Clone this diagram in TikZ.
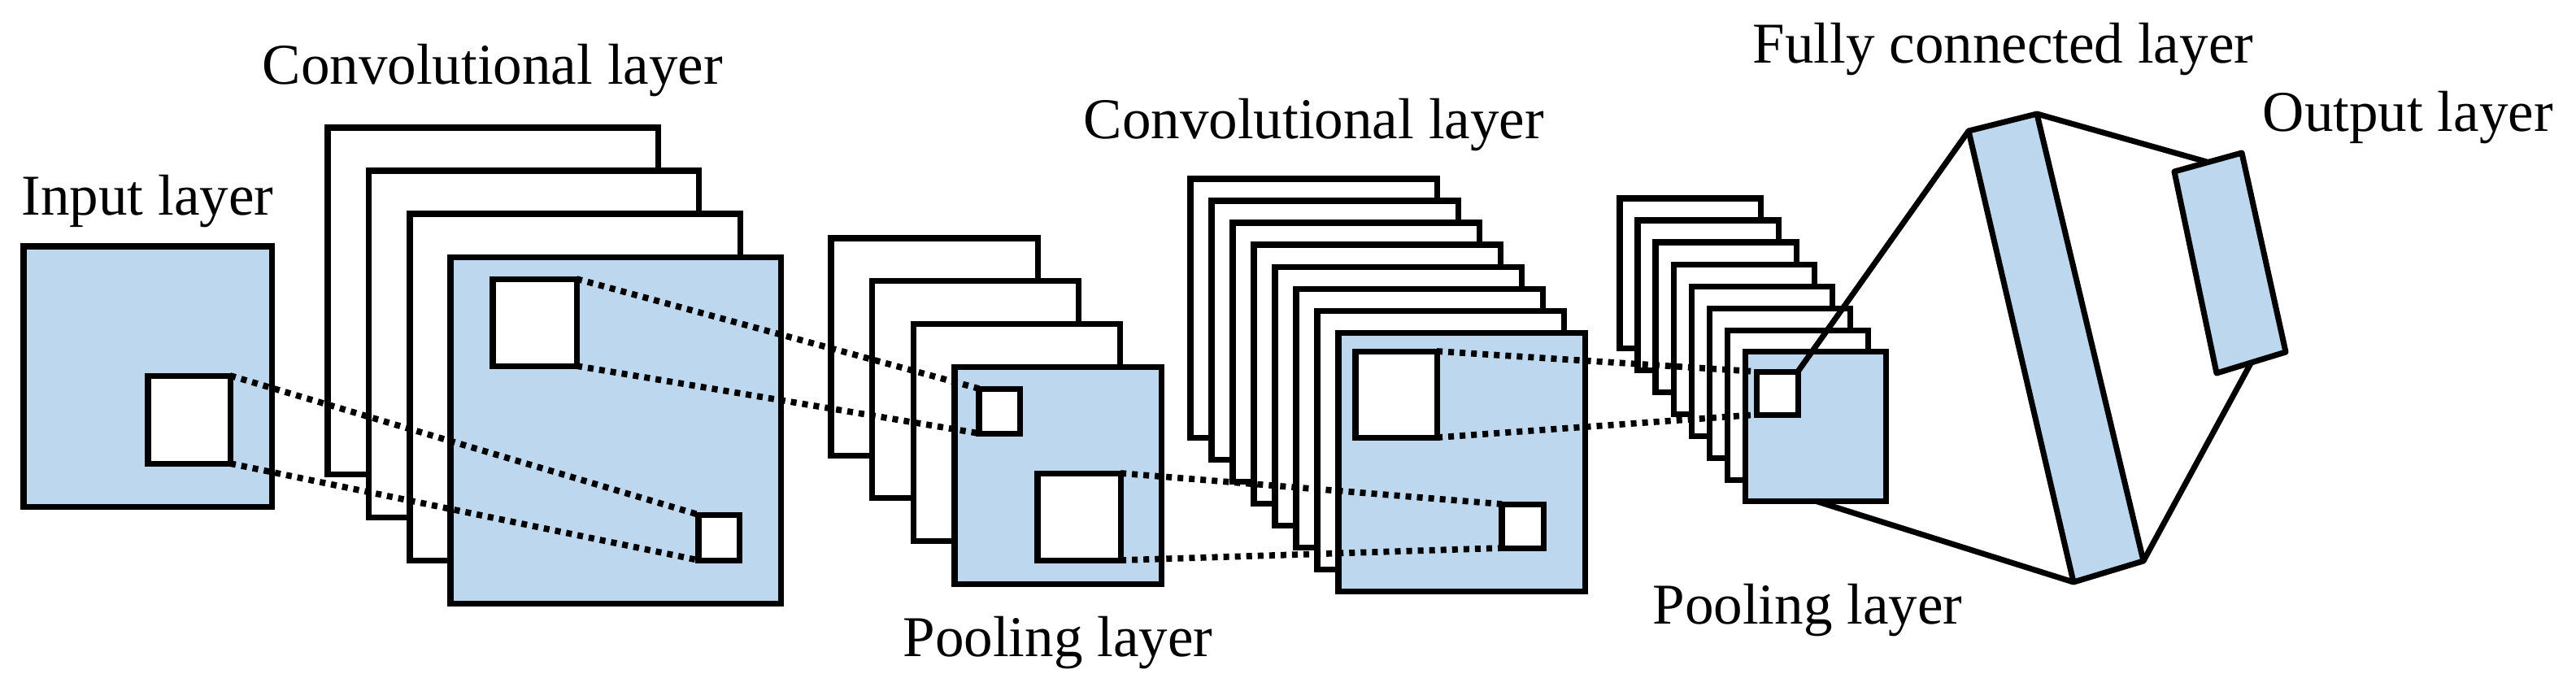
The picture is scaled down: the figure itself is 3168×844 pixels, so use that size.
\documentclass[tikz,border=0pt]{standalone}
\usepackage{fontspec}
\setmainfont{Liberation Serif}
\newfontfamily\lblfont{Liberation Serif}
\usetikzlibrary{calc}
\definecolor{mapblue}{HTML}{BDD7EE}
\tikzset{
  map/.style={draw, line width=2pt, fill=white, inner sep=0pt, outer sep=0pt, anchor=north west},
  bluemap/.style={map, fill=mapblue},
  link/.style={line width=2.2pt, dash pattern=on 2pt off 2pt},
  edge/.style={line width=2pt},
  lbl/.style={font=\lblfont\fontsize{20.2}{24}\selectfont, inner sep=0pt, anchor=base west}
}
\begin{document}
\begin{tikzpicture}[x=0.01cm, y=-0.01cm]
\useasboundingbox (0,0) rectangle (3168,844);
% labels
\node[lbl] at (26,264) {Input layer};
\node[lbl] at (322,103) {Convolutional layer};
\node[lbl] at (1110,807) {Pooling layer};
\node[lbl] at (1332,170) {Convolutional layer};
\node[lbl] at (2032,767) {Pooling layer};
\node[lbl] at (2155,77) {Fully connected layer};
\node[lbl] at (2782,161) {Output layer};
% input
\node[bluemap, minimum width=3.05cm, minimum height=3.2cm] (in) at (29,303) {};
\node[map, minimum width=1.01cm, minimum height=1.08cm] (in-w) at (182,462) {};
% first convolution
\foreach \i in {0,...,2}
  \node[map, minimum width=4.06cm, minimum height=4.26cm] (c1-\i) at (403+50.5*\i,157+53*\i) {};
\node[bluemap, minimum width=4.06cm, minimum height=4.26cm] (c1) at (554,316) {};
\node[map, minimum width=1.03cm, minimum height=1.07cm] (c1-big) at (606,343) {};
\node[map, minimum width=0.5cm, minimum height=0.56cm] (c1-small) at (859,633) {};
% first pooling
\foreach \i in {0,...,2}
  \node[map, minimum width=2.54cm, minimum height=2.67cm] (p1-\i) at (1022+50.7*\i,293+52.7*\i) {};
\node[bluemap, minimum width=2.54cm, minimum height=2.67cm] (p1) at (1174,451) {};
\node[map, minimum width=0.5cm, minimum height=0.55cm] (p1-small) at (1204,478) {};
\node[map, minimum width=1.02cm, minimum height=1.07cm] (p1-big) at (1276,582) {};
% second convolution
\foreach \i in {0,...,6}
  \node[map, minimum width=3.03cm, minimum height=3.18cm] (c2-\i) at (1464+26*\i,220+27*\i) {};
\node[bluemap, minimum width=3.03cm, minimum height=3.18cm] (c2) at (1646,409) {};
\node[map, minimum width=1.0cm, minimum height=1.06cm] (c2-big) at (1667,432) {};
\node[map, minimum width=0.51cm, minimum height=0.54cm] (c2-small) at (1847,620) {};
% second pooling
\foreach \i in {0,...,6}
  \node[map, minimum width=1.73cm, minimum height=1.84cm] (p2-\i) at (1992+22*\i,244+27*\i) {};
\node[bluemap, minimum width=1.73cm, minimum height=1.84cm] (p2) at (2146,432) {};
\node[map, minimum width=0.51cm, minimum height=0.53cm] (p2-small) at (2160,457) {};
% fully connected and output
\coordinate (fc-a) at (2421,161);
\coordinate (fc-b) at (2505,140);
\coordinate (fc-c) at (2636,690);
\coordinate (fc-d) at (2550,716);
\coordinate (out-a) at (2674,211);
\coordinate (out-b) at (2757,188);
\coordinate (out-c) at (2811,433);
\coordinate (out-d) at (2726,459);
\draw[edge] (p2-small.north east) -- (fc-a);
\draw[edge] (p2.south) -- (fc-d);
\draw[edge] (fc-b) -- ($(out-a)!0.5!(out-b)$);
\draw[edge] (fc-c) -- ($(out-c)!0.5!(out-d)$);
\draw[edge, fill=mapblue, line join=round] (fc-a) -- (fc-b) -- (fc-c) -- (fc-d) -- cycle;
\draw[edge, fill=mapblue, line join=round] (out-a) -- (out-b) -- (out-c) -- (out-d) -- cycle;
% receptive fields
\draw[link] (in-w.north east) -- (c1-small.north west);
\draw[link] (in-w.south east) -- (c1-small.south west);
\draw[link] (c1-big.north east) -- (p1-small.north west);
\draw[link] (c1-big.south east) -- (p1-small.south west);
\draw[link] (p1-big.north east) -- (c2-small.north west);
\draw[link] (p1-big.south east) -- (c2-small.south west);
\draw[link] (c2-big.north east) -- (p2-small.north west);
\draw[link] (c2-big.south east) -- (p2-small.south west);
\end{tikzpicture}
\end{document}
